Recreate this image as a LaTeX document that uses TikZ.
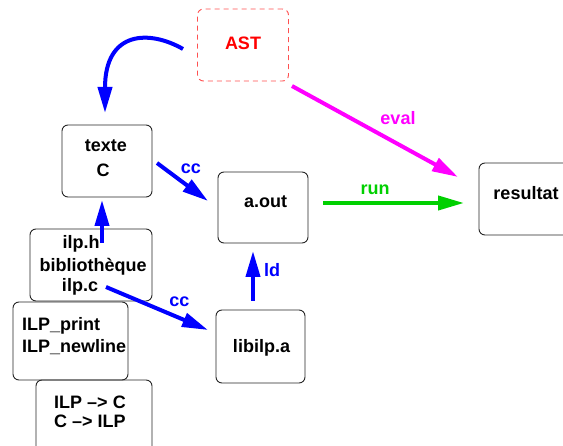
\documentclass[tikz,border=0pt]{standalone}
\usepackage{fontspec}
\setmainfont{Liberation Sans}
\usetikzlibrary{arrows.meta}
\definecolor{cblue}{RGB}{0,0,255}
\definecolor{cmag}{RGB}{255,0,255}
\definecolor{cgreen}{RGB}{0,208,0}
\definecolor{cred}{RGB}{255,0,0}
\definecolor{cdash}{RGB}{255,80,80}
\begin{document}
\begin{tikzpicture}[x=1pt,y=-1pt,
  box/.style={draw=black!85,line width=0.9pt,rounded corners=6pt,inner sep=0pt},
  astbox/.style={draw=cdash,line width=0.9pt,dash pattern=on 5pt off 4pt,rounded corners=6pt,inner sep=0pt},
  txt/.style={inner sep=0pt,anchor=base,font=\bfseries\fontsize{18}{22}\selectfont},
  ltxt/.style={txt,anchor=base west},
  flow/.style={line width=4pt,-{Triangle[length=26pt,width=14pt]}}]
\useasboundingbox (0,0) rectangle (563,446);
\clip (0,0) rectangle (563,446);

% boxes
\node[astbox,minimum width=91pt,minimum height=72pt] (ast) at (243,45) {};
\node[box,minimum width=90pt,minimum height=72pt] (texte) at (107,161) {};
\node[box,minimum width=90pt,minimum height=71pt] (aout) at (263,207.5) {};
\node[box,minimum width=90pt,minimum height=72pt] (res) at (524,199) {};
\node[box,minimum width=122pt,minimum height=72pt] (ilp) at (91,265) {};
\node[box,minimum width=115pt,minimum height=78pt] (prims) at (70.5,341) {};
\node[box,minimum width=116pt,minimum height=72pt] (conv) at (94,416) {};
\node[box,minimum width=89pt,minimum height=73pt] (lib) at (260.5,346.5) {};

% box texts
\node[txt,text=cred] (tast) at (243,50) {AST};
\node[txt] (ttexte) at (106,152) {texte};
\node[txt] (tc) at (103,177) {C};
\node[txt] (taout) at (265.5,208) {a.out};
\node[txt] (tres) at (526,200) {resultat};
\node[txt] (tilph) at (81,249) {ilp.h};
\node[txt] (tbib) at (93,272) {bibliothèque};
\node[txt] (tilpc) at (80,292) {ilp.c};
\node[ltxt] (tprint) at (22,331) {ILP\_print};
\node[ltxt] (tnewl) at (22,353) {ILP\_newline};
\node[txt] (tconv1) at (90,409) {ILP –> C};
\node[txt] (tconv2) at (90,428) {C –> ILP};
\node[txt] (tlib) at (261.5,353) {libilp.a};

% connector end points
\coordinate (astout) at (183,49);
\coordinate (textein) at (105,113);
\coordinate (texteout) at (157,163);
\coordinate (aoutin) at (208,201);
\coordinate (ilphout) at (102,243);
\coordinate (textebot) at (102,200);
\coordinate (ilpcout) at (106,287);
\coordinate (libin) at (208,330);
\coordinate (libout) at (253,301);
\coordinate (aoutbot) at (253,251);
\coordinate (asteval) at (292,86);
\coordinate (reseval) at (458,177);
\coordinate (aoutrun) at (323,203);
\coordinate (resrun) at (464,203);

% connectors
\draw[flow,cblue] (astout) .. controls (150,30) and (105,30) .. (textein);
\draw[flow,cblue] (texteout) -- (aoutin);
\draw[flow,cblue] (ilphout) -- (textebot);
\draw[flow,cblue] (ilpcout) -- (libin);
\draw[flow,cblue] (libout) -- (aoutbot);
\draw[flow,cmag] (asteval) -- (reseval);
\draw[flow,cgreen] (aoutrun) -- (resrun);

% connector labels
\node[txt,text=cblue] (lcc1) at (191,174) {cc};
\node[txt,text=cblue] (lcc2) at (179.5,307) {cc};
\node[txt,text=cblue] (lld) at (272,277) {ld};
\node[txt,text=cmag] (leval) at (398,125) {eval};
\node[txt,text=cgreen] (lrun) at (375,195) {run};
\end{tikzpicture}
\end{document}
